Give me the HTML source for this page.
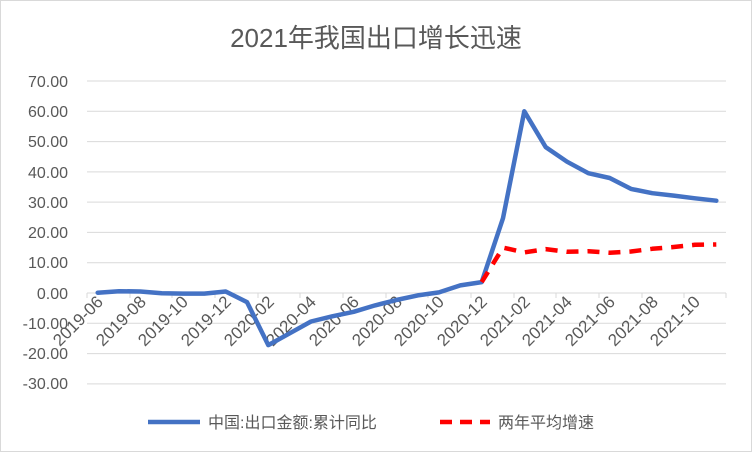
<!DOCTYPE html>
<html><head><meta charset="utf-8"><style>
html,body{margin:0;padding:0;background:#fff;}
svg text{font-family:"Liberation Sans","Noto Sans CJK SC",sans-serif;fill:#595959;}
</style></head><body>
<svg width="752" height="452" viewBox="0 0 752 452" xmlns="http://www.w3.org/2000/svg">
<rect x="0.5" y="0.5" width="751" height="451" fill="#fff" stroke="#d9d9d9"/>
<text x="376" y="47" font-size="26" text-anchor="middle">2021年我国出口增长迅速</text>
<g stroke="#d9d9d9" stroke-width="1">
<line x1="87" x2="726" y1="81" y2="81"/><line x1="87" x2="726" y1="111.3" y2="111.3"/>
<line x1="87" x2="726" y1="141.6" y2="141.6"/><line x1="87" x2="726" y1="171.9" y2="171.9"/>
<line x1="87" x2="726" y1="202.1" y2="202.1"/><line x1="87" x2="726" y1="232.4" y2="232.4"/>
<line x1="87" x2="726" y1="262.7" y2="262.7"/><line x1="87" x2="726" y1="293" y2="293"/>
<line x1="87" x2="726" y1="323.3" y2="323.3"/><line x1="87" x2="726" y1="353.6" y2="353.6"/>
<line x1="87" x2="726" y1="383.9" y2="383.9"/>
</g>
<g stroke="#d9d9d9">
<line x1="87" x2="87" y1="293" y2="298"/><line x1="130" x2="130" y1="293" y2="298"/><line x1="172" x2="172" y1="293" y2="298"/><line x1="215" x2="215" y1="293" y2="298"/><line x1="258" x2="258" y1="293" y2="298"/><line x1="300" x2="300" y1="293" y2="298"/><line x1="343" x2="343" y1="293" y2="298"/><line x1="386" x2="386" y1="293" y2="298"/><line x1="428" x2="428" y1="293" y2="298"/><line x1="471" x2="471" y1="293" y2="298"/><line x1="514" x2="514" y1="293" y2="298"/><line x1="556" x2="556" y1="293" y2="298"/><line x1="599" x2="599" y1="293" y2="298"/><line x1="642" x2="642" y1="293" y2="298"/><line x1="684" x2="684" y1="293" y2="298"/><line x1="726" x2="726" y1="293" y2="298"/>
</g>
<g font-size="16" text-anchor="end">
<text x="68" y="87">70.00</text><text x="68" y="117">60.00</text><text x="68" y="147">50.00</text>
<text x="68" y="178">40.00</text><text x="68" y="208">30.00</text><text x="68" y="238">20.00</text>
<text x="68" y="268">10.00</text><text x="68" y="299">0.00</text><text x="68" y="329">-10.00</text>
<text x="68" y="359">-20.00</text><text x="68" y="389">-30.00</text>
</g>
<g font-size="17" text-anchor="end">
<text transform="translate(104,303) rotate(-45)">2019-06</text>
<text transform="translate(147,303) rotate(-45)">2019-08</text>
<text transform="translate(189,303) rotate(-45)">2019-10</text>
<text transform="translate(232,303) rotate(-45)">2019-12</text>
<text transform="translate(275,303) rotate(-45)">2020-02</text>
<text transform="translate(317,303) rotate(-45)">2020-04</text>
<text transform="translate(360,303) rotate(-45)">2020-06</text>
<text transform="translate(403,303) rotate(-45)">2020-08</text>
<text transform="translate(445,303) rotate(-45)">2020-10</text>
<text transform="translate(488,303) rotate(-45)">2020-12</text>
<text transform="translate(531,303) rotate(-45)">2021-02</text>
<text transform="translate(573,303) rotate(-45)">2021-04</text>
<text transform="translate(616,303) rotate(-45)">2021-06</text>
<text transform="translate(659,303) rotate(-45)">2021-08</text>
<text transform="translate(701,303) rotate(-45)">2021-10</text>
</g>
<polyline fill="none" stroke="#4472c4" stroke-width="4.5" stroke-linejoin="round" stroke-linecap="round"
points="97.7,292.7 119,291.2 140.3,291.5 161.7,293.3 183,293.6 204.3,293.6 225.7,291.5 247,302.1 268.3,345.1 289.7,333.3 311,321.5 332.3,316.3 353.7,311.8 375,305.4 396.3,300 417.7,295.4 439,292.4 460.3,285.4 481.7,282.1 503,218.2 524.3,111.3 545.7,147.1 567,161.7 588.3,173.2 609.7,178 631,188.9 652.3,193.2 673.7,195.6 695,198.3 716.3,200.7"/>
<polyline fill="none" stroke="#ff0000" stroke-width="4.5" stroke-dasharray="12,9" stroke-linejoin="round"
points="481.7,282.1 503,247.6 524.3,252.4 545.7,249.1 567,251.8 588.3,251.2 609.7,252.7 631,251.5 652.3,248.8 673.7,247 695,244.8 716.3,244.5"/>
<line x1="148" x2="200" y1="422" y2="422" stroke="#4472c4" stroke-width="4.5"/>
<text x="208" y="428" font-size="16">中国:出口金额:累计同比</text>
<line x1="440" x2="490" y1="422" y2="422" stroke="#ff0000" stroke-width="4.5" stroke-dasharray="12,8"/>
<text x="498" y="428" font-size="16">两年平均增速</text>
</svg>
</body></html>
